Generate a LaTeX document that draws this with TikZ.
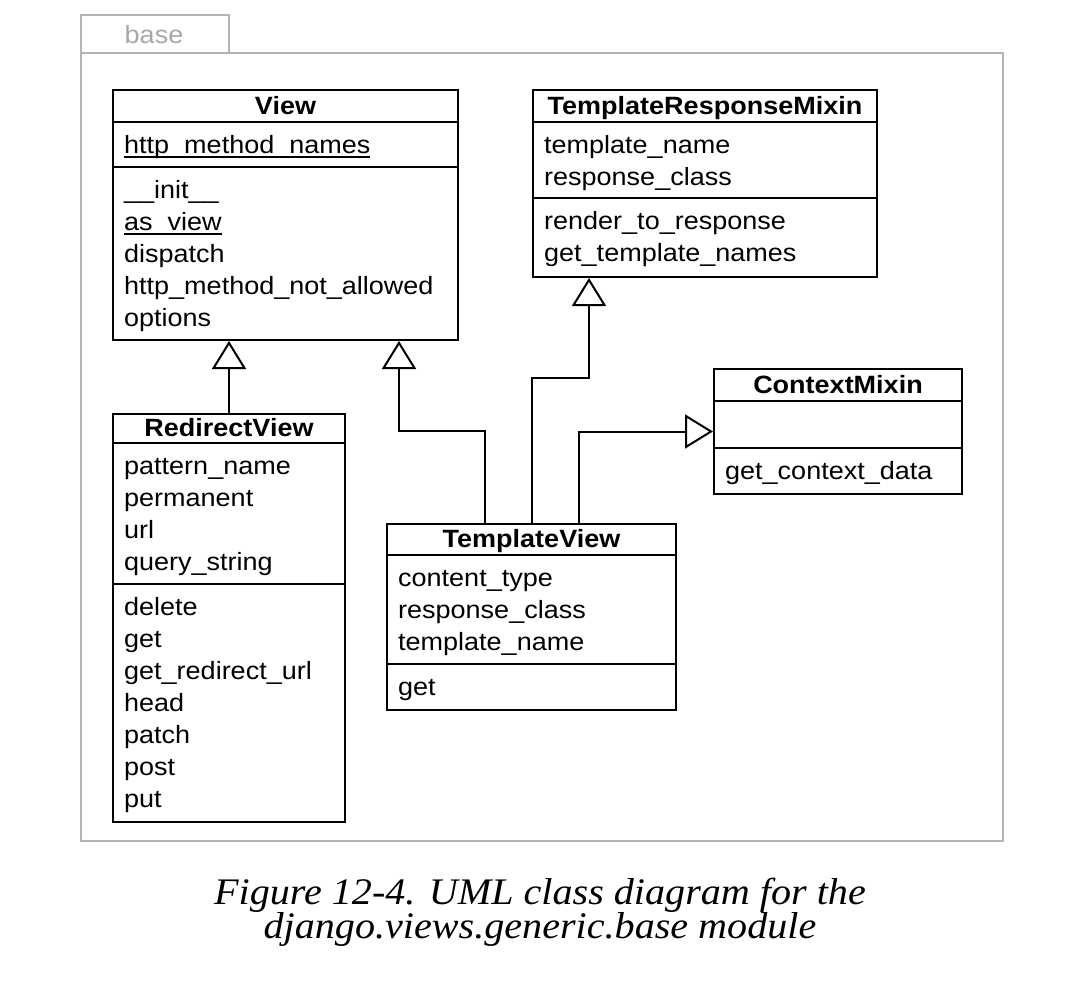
\documentclass[tikz,border=0pt]{standalone}
\usepackage{fontspec}
\setmainfont[FakeStretch=1.08]{Liberation Sans}
\newfontfamily\capfont[FakeStretch=1.07]{Liberation Serif}
\usetikzlibrary{arrows.meta,calc}
\definecolor{pkggray}{HTML}{B4B4B4}
\definecolor{pkgtext}{HTML}{A8A8A8}
\newcommand\ulx[1]{\setbox0\hbox{#1}\rlap{\rule[-4.5pt]{\wd0}{1.6pt}}\box0}
\newcommand\classlines[3]{\foreach \t [count=\i from 0] in {#3}{\node[txt] (#1-#2-\i) at ($(#1.north west)+(12,{#2+32*\i})$) {\t};}}
\newcommand\sepat[2]{\draw[sepline] ([yshift=-#2pt]#1.north west) -- ([yshift=-#2pt]#1.north east);}
\begin{document}
\begin{tikzpicture}[x=1pt,y=-1pt,
 classbox/.style={draw, line width=2pt, inner sep=0, anchor=north west, fill=white},
 sepline/.style={line width=2pt},
 txt/.style={inner sep=0, anchor=base west, font=\fontsize{25}{30}\selectfont},
 ttl/.style={inner sep=0, anchor=base, font=\fontsize{25}{30}\selectfont\bfseries},
 gen/.style={line width=2pt, -{Triangle[open, length=28pt, width=34pt, fill=white]}},
 frame/.style={draw=pkggray, line width=2pt, inner sep=0, anchor=north west},
 captxt/.style={anchor=base, inner sep=0, font=\capfont\itshape\fontsize{37.5}{32}\selectfont},
]
\useasboundingbox (0,0) rectangle (1080,991);
% package frame
\node[frame, minimum width=148pt, minimum height=38pt] (tab) at (80,14) {};
\node[frame, minimum width=922pt, minimum height=788pt] (pkg) at (80,52) {};
\node[inner sep=0, anchor=base, text=pkgtext, font=\fontsize{25}{30}\selectfont] (tablabel) at (154,43) {base};

% View
\node[classbox, minimum width=345pt, minimum height=250pt] (view) at (112,89) {};
\node[ttl] (view-title) at ([yshift=-25pt]view.north) {View};
\sepat{view}{33}\sepat{view}{78}
\classlines{view}{64}{\ulx{http\_method\_names}}
\classlines{view}{109}{\_\_init\_\_,\ulx{as\_view},dispatch,http\_method\_not\_allowed,options}

% TemplateResponseMixin
\node[classbox, minimum width=344pt, minimum height=187pt] (trm) at (532,89) {};
\node[ttl] (trm-title) at ([yshift=-25pt]trm.north) {TemplateResponseMixin};
\sepat{trm}{33}\sepat{trm}{109}
\classlines{trm}{64}{template\_name,response\_class}
\classlines{trm}{140}{render\_to\_response,get\_template\_names}

% ContextMixin
\node[classbox, minimum width=248pt, minimum height=125pt] (cm) at (713,368) {};
\node[ttl] (cm-title) at ([yshift=-25pt]cm.north) {ContextMixin};
\sepat{cm}{33}\sepat{cm}{80}
\classlines{cm}{111}{get\_context\_data}

% RedirectView
\node[classbox, minimum width=232pt, minimum height=408pt] (rv) at (112,413) {};
\node[ttl] (rv-title) at ([yshift=-23pt]rv.north) {RedirectView};
\sepat{rv}{30}\sepat{rv}{171}
\classlines{rv}{61}{pattern\_name,permanent,url,query\_string}
\classlines{rv}{202}{delete,get,get\_redirect\_url,head,patch,post,put}

% TemplateView
\node[classbox, minimum width=289pt, minimum height=186pt] (tv) at (386,523) {};
\node[ttl] (tv-title) at ([yshift=-24pt]tv.north) {TemplateView};
\sepat{tv}{32}\sepat{tv}{141}
\classlines{tv}{63}{content\_type,response\_class,template\_name}
\classlines{tv}{172}{get}

% connectors
\coordinate (viewtip) at ($(view.south west)+(287,0)$);
\coordinate (trmtip) at ($(trm.south west)+(57,0)$);
\draw[gen] (rv.north) -- (rv.north |- view.south);
\draw[gen] ($(tv.north)+(-47,0)$) -- ++(0,-92) -| (viewtip);
\draw[gen] (tv.north) -- ++(0,-145) -| (trmtip);
\draw[gen] ($(tv.north)+(47,0)$) |- (cm.west);

% caption
\node[captxt] (cap1) at (540,904) {Figure 12-4. UML class diagram for the};
\node[captxt] (cap2) at (540,938) {django.views.generic.base module};
\end{tikzpicture}
\end{document}
